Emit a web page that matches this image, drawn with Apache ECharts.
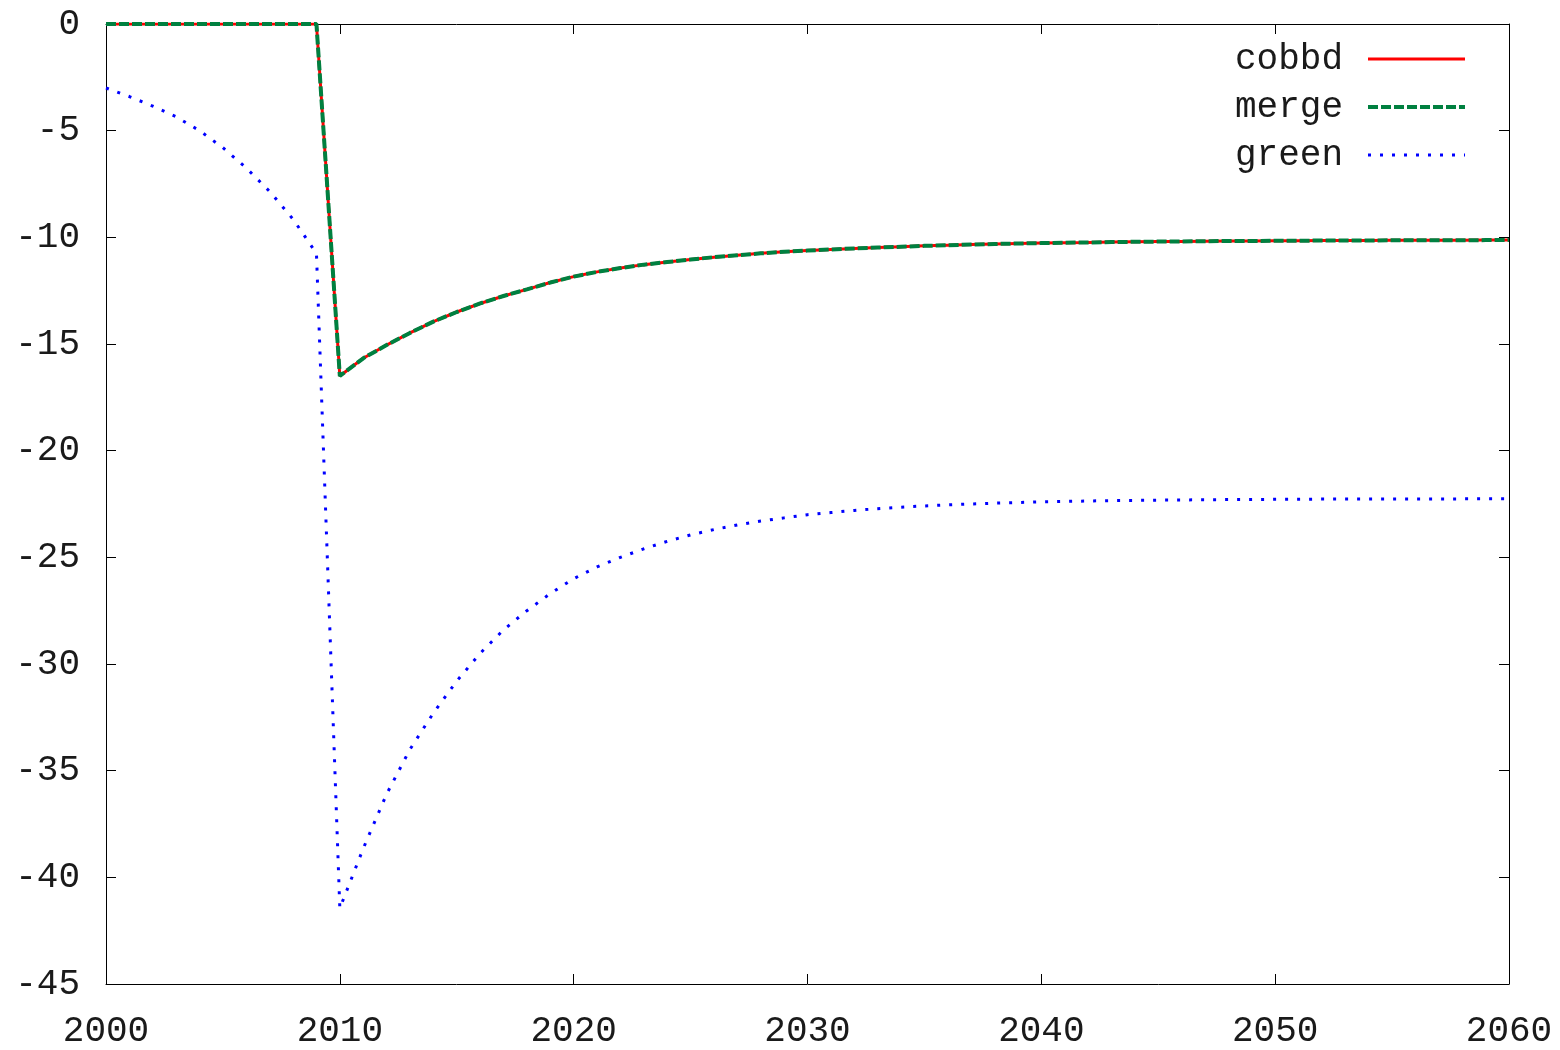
<!DOCTYPE html>
<html>
<head>
<meta charset="utf-8">
<script src="https://cdn.jsdelivr.net/npm/echarts@6/dist/echarts.min.js"></script>
<style>
html,body{margin:0;padding:0;background:#fff;}
#chart{width:1560px;height:1050px;}
</style>
</head>
<body>
<div id="chart"></div>
<script>
// ---- data ----
var years = [
  2000,2001,2002,2003,2004,2005,2006,2007,2008,2009,
  2010,2011,2012,2013,2014,2015,2016,2017,2018,2019,
  2020,2021,2022,2023,2024,2025,2026,2027,2028,2029,
  2030,2031,2032,2033,2034,2035,2036,2037,2038,2039,
  2040,2041,2042,2043,2044,2045,2046,2047,2048,2049,
  2050,2051,2052,2053,2054,2055,2056,2057,2058,2059,
  2060
];
var cobbd = [
  0,0,0,0,0,0,0,0,0,0,
  -16.50,-15.67,-15.05,-14.48,-13.95,-13.50,-13.10,-12.75,-12.44,-12.12,
  -11.84,-11.62,-11.44,-11.28,-11.16,-11.04,-10.93,-10.84,-10.75,-10.68,
  -10.62,-10.57,-10.52,-10.48,-10.44,-10.40,-10.37,-10.34,-10.31,-10.29,
  -10.27,-10.25,-10.24,-10.22,-10.21,-10.20,-10.19,-10.18,-10.17,-10.17,
  -10.16,-10.16,-10.15,-10.15,-10.15,-10.14,-10.14,-10.14,-10.14,-10.13,
  -10.13
];
var merge = [
  0,0,0,0,0,0,0,0,0,0,
  -16.50,-15.67,-15.05,-14.48,-13.95,-13.50,-13.10,-12.75,-12.44,-12.12,
  -11.84,-11.62,-11.44,-11.28,-11.16,-11.04,-10.93,-10.84,-10.75,-10.68,
  -10.62,-10.57,-10.52,-10.48,-10.44,-10.40,-10.37,-10.34,-10.31,-10.29,
  -10.27,-10.25,-10.24,-10.22,-10.21,-10.20,-10.19,-10.18,-10.17,-10.17,
  -10.16,-10.16,-10.15,-10.15,-10.15,-10.14,-10.14,-10.14,-10.14,-10.13,
  -10.13
];
var green = [
  -3.00,-3.40,-3.85,-4.35,-5.00,-5.80,-6.75,-7.85,-9.15,-10.75,
  -41.45,-38.65,-36.10,-34.00,-32.30,-30.80,-29.50,-28.40,-27.50,-26.70,
  -26.00,-25.45,-25.00,-24.60,-24.25,-23.95,-23.70,-23.48,-23.30,-23.15,
  -23.00,-22.90,-22.80,-22.72,-22.65,-22.59,-22.54,-22.50,-22.46,-22.43,
  -22.40,-22.38,-22.36,-22.34,-22.33,-22.32,-22.31,-22.30,-22.29,-22.29,
  -22.28,-22.28,-22.27,-22.27,-22.27,-22.26,-22.26,-22.26,-22.26,-22.25,
  -22.25
];
var seriesNames = ['cobbd', 'merge', 'green'];
var xTicks = [2000, 2010, 2020, 2030, 2040, 2050, 2060];
var yTicks = [0, -5, -10, -15, -20, -25, -30, -35, -40, -45];

function pairs(vals) {
  return years.map(function (y, i) { return [y, vals[i]]; });
}

var FONT = 'Liberation Mono';
var TEXT = '#1a1a1a';
var chart = echarts.init(document.getElementById('chart'), null, {renderer: 'canvas'});

var axisCommon = {
  axisLine: {show: true, onZero: false, lineStyle: {color: '#000', width: 1}},
  axisTick: {show: true, inside: true, length: 10, lineStyle: {color: '#000', width: 1}},
  splitLine: {show: false}
};

var option = {
  backgroundColor: '#fff',
  animation: false,
  grid: {left: 106, right: 51, top: 24, bottom: 66, containLabel: false},
  legend: {
    data: seriesNames,
    right: 88,
    top: 36,
    orient: 'vertical',
    align: 'right',
    itemWidth: 97,
    itemHeight: 22,
    itemGap: 12,
    itemStyle: {opacity: 0},
    lineStyle: {width: 'inherit', type: 'inherit'},
    textStyle: {fontFamily: FONT, fontSize: 36, color: TEXT, padding: [0, 20, 0, 0]}
  },
  xAxis: [
    Object.assign({
      type: 'value', position: 'bottom',
      min: xTicks[0], max: xTicks[xTicks.length - 1], interval: 10,
      axisLabel: {show: true, margin: 29, fontFamily: FONT, fontSize: 36, color: TEXT,
        formatter: function (v) { return String(v); }}
    }, axisCommon),
    Object.assign({
      type: 'value', position: 'top',
      min: xTicks[0], max: xTicks[xTicks.length - 1], interval: 10,
      axisLabel: {show: false}
    }, axisCommon)
  ],
  yAxis: [
    Object.assign({
      type: 'value', position: 'left',
      min: yTicks[yTicks.length - 1], max: yTicks[0], interval: 5,
      axisLabel: {show: true, margin: 26, fontFamily: FONT, fontSize: 36, color: TEXT}
    }, axisCommon),
    Object.assign({
      type: 'value', position: 'right',
      min: yTicks[yTicks.length - 1], max: yTicks[0], interval: 5,
      axisLabel: {show: false}
    }, axisCommon)
  ],
  series: [
    {
      name: seriesNames[0], type: 'line', data: pairs(cobbd),
      symbol: 'none', z: 2,
      itemStyle: {color: '#ff0000'},
      lineStyle: {color: '#ff0000', width: 3, type: 'solid'}
    },
    {
      name: seriesNames[1], type: 'line', data: pairs(merge),
      symbol: 'none', z: 3,
      itemStyle: {color: '#008040'},
      lineStyle: {color: '#008040', width: 4, type: [10, 3]}
    },
    {
      name: seriesNames[2], type: 'line', data: pairs(green),
      symbol: 'none', z: 4,
      itemStyle: {color: '#0000ff'},
      lineStyle: {color: '#0000ff', width: 3, type: [3, 9]}
    }
  ]
};
chart.setOption(option);
</script>
</body>
</html>
